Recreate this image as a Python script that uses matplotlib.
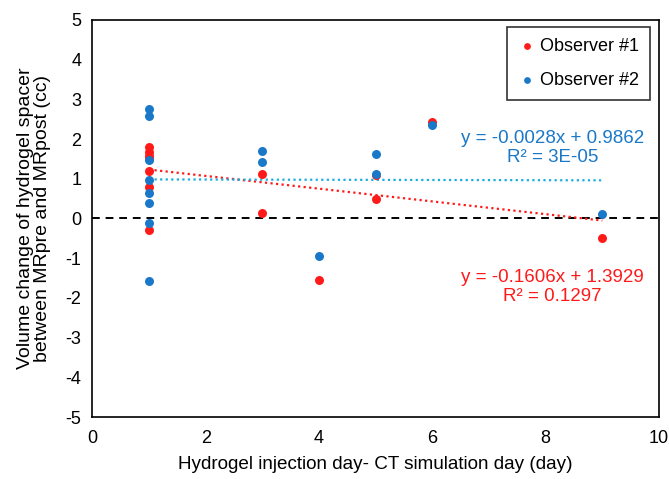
import matplotlib.pyplot as plt
import numpy as np

plt.rcParams['font.family'] = ['Liberation Sans', 'DejaVu Sans']
plt.rcParams['axes.unicode_minus'] = False

RED = "#FF1A1A"
BLUE = "#1A78C8"
CYAN = "#1AAEE0"

# observer #1
x1 = [1, 1, 1, 1, 1, 1, 1, 3, 3, 4, 5, 5, 6, 9]
y1 = [1.80, 1.68, 1.58, 1.19, 0.80, -0.28, 1.50, 1.11, 0.15, -1.54, 1.10, 0.50, 2.42, -0.48]

# observer #2
x2 = [1, 1, 1, 1, 1, 1, 1, 1, 3, 3, 4, 5, 5, 6, 9]
y2 = [2.75, 2.57, 1.46, 0.98, 0.63, 0.40, -0.12, -1.57, 1.70, 1.42, -0.95, 1.62, 1.13, 2.36, 0.12]

# linear trend lines (from the chart's equations)
fit1 = (-0.1606, 1.3929)
fit2 = (-0.0028, 0.9862)
fit_range = [1, 9]

fig = plt.figure(figsize=(6.69, 4.79), dpi=100)
ax = fig.add_axes([0.138, 0.1294, 0.847, 0.829])

ax.axhline(0, color="black", lw=1.4, ls=(0, (4, 3)), zorder=1)

ax.scatter(x1, y1, s=42, color=RED, zorder=3, label="Observer #1", linewidths=0)
ax.scatter(x2, y2, s=42, color=BLUE, zorder=4, label="Observer #2", linewidths=0)

xf = np.array(fit_range, dtype=float)
ax.plot(xf, fit1[0] * xf + fit1[1], color=RED, lw=1.6, ls=(0, (1, 1.5)), zorder=2)
ax.plot(xf, fit2[0] * xf + fit2[1], color=CYAN, lw=1.6, ls=(0, (1, 1.5)), zorder=2)

ax.text(8.12, 1.77, "y = -0.0028x + 0.9862\nR² = 3E-05", color=BLUE,
        fontsize=13.5, ha="center", va="center", linespacing=1.2)
ax.text(8.12, -1.73, "y = -0.1606x + 1.3929\nR² = 0.1297", color=RED,
        fontsize=13.5, ha="center", va="center", linespacing=1.2)

ax.set_xlim(0, 10)
ax.set_ylim(-5, 5)
ax.set_xticks(range(0, 11, 2))
ax.set_yticks(range(-5, 6))
ax.tick_params(axis="x", length=0, labelsize=13, pad=9)
ax.tick_params(axis="y", length=0, labelsize=13, pad=8)
for s in ax.spines.values():
    s.set_linewidth(1.2)

ax.set_xlabel("Hydrogel injection day- CT simulation day (day)", fontsize=13.6, labelpad=7)
ax.set_ylabel("Volume change of hydrogel spacer\nbetween MRpre and MRpost (cc)",
              fontsize=14, labelpad=10, linespacing=1.05)

leg = ax.legend(loc="upper right", fontsize=13, frameon=True, fancybox=False,
                edgecolor="black", handlelength=1.0, handletextpad=0.25,
                markerscale=0.75, borderpad=0.6, labelspacing=0.95,
                borderaxespad=0.0, bbox_to_anchor=(0.984, 0.982))
leg.get_frame().set_linewidth(1.2)

fig.savefig("out.png", dpi=100)
